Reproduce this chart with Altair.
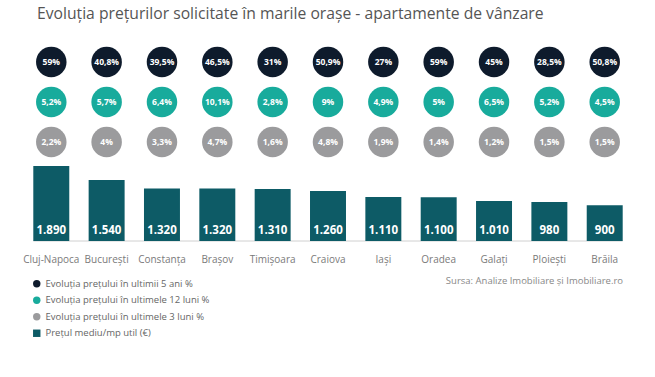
import altair as alt
import pandas as pd

cities = ["Cluj-Napoca", "București", "Constanța", "Brașov", "Timișoara", "Craiova",
          "Iași", "Oradea", "Galați", "Ploiești", "Brăila"]
evol_5ani = [59, 40.8, 39.5, 46.5, 31, 50.9, 27, 59, 45, 28.5, 50.8]
evol_12luni = [5.2, 5.7, 6.4, 10.1, 2.8, 9, 4.9, 5, 6.5, 5.2, 4.5]
evol_3luni = [2.2, 4, 3.3, 4.7, 1.6, 4.8, 1.9, 1.4, 1.2, 1.5, 1.5]
pret_mediu = [1890, 1540, 1320, 1320, 1310, 1260, 1110, 1100, 1010, 980, 900]

s5 = "Evoluția prețului în ultimii 5 ani %"
s12 = "Evoluția prețului în ultimele 12 luni %"
s3 = "Evoluția prețului în ultimele 3 luni %"
sp = "Prețul mediu/mp util (€)"
series = [s5, s12, s3, sp]
colors = ["#0e1b2c", "#18ab9c", "#9b9b9d", "#0d5b66"]
FONT = "Open Sans"


def pct(v):
    return f"{v:g}".replace(".", ",") + "%"


rows = []
for name, vals in [(s5, evol_5ani), (s12, evol_12luni), (s3, evol_3luni)]:
    for c, v in zip(cities, vals):
        rows.append({"city": c, "series": name, "label": pct(v)})
circ_df = pd.DataFrame(rows)
bar_df = pd.DataFrame({
    "city": cities,
    "price": pret_mediu,
    "series": sp,
    "label": [f"{v:,}".replace(",", ".") for v in pret_mediu],
})
src_df = pd.DataFrame({"t": ["Sursa: Analize Imobiliare și Imobiliare.ro"]})

xscale = alt.Scale(domain=cities, range=[33.3, 622.7], paddingInner=0.35, paddingOuter=0)
x_plain = alt.X("city:N", scale=xscale, sort=cities, axis=None)

leg = alt.Legend(title=None, orient="none", legendX=32, legendY=249,
                 symbolSize=55, labelFontSize=9.5, labelColor="#666666", labelLimit=400,
                 labelFont=FONT, rowPadding=5.5, symbolStrokeWidth=0)
color = alt.Color("series:N", scale=alt.Scale(domain=series, range=colors), legend=leg)
shape = alt.Shape("series:N", scale=alt.Scale(domain=series,
                                               range=["circle", "circle", "circle", "square"]),
                  legend=leg)

yrow = alt.Y("series:N", scale=alt.Scale(type="point", domain=[s5, s12, s3],
                                         range=[32, 112], padding=0), axis=None)
ybar = alt.Scale(domain=[0, 1890], range=[211, 136], nice=False, zero=True)
y_zero = alt.YDatum(0, scale=ybar, axis=None)

bars = alt.Chart(bar_df).mark_bar().encode(
    x=x_plain,
    y=alt.Y("price:Q", scale=ybar, axis=None),
    color=color,
)
baseline = alt.Chart(src_df).mark_rule(color="#d0d0d0", strokeWidth=1).encode(
    x=alt.value(33.3), x2=alt.value(622.7), y=y_zero,
)
bar_txt = alt.Chart(bar_df).mark_text(color="white", fontWeight="bold", fontSize=11.5,
                                      font=FONT, baseline="middle", dy=-10).encode(
    x=x_plain, y=y_zero, text="label:N",
)
city_txt = alt.Chart(bar_df).mark_text(color="#7a7a7a", fontSize=10, font=FONT,
                                       baseline="middle", dy=19).encode(
    x=x_plain, y=y_zero, text="city:N",
)
circles = alt.Chart(circ_df).mark_point(filled=True, size=930, opacity=1).encode(
    x=x_plain, y=yrow, color=color, shape=shape,
)
circ_txt = alt.Chart(circ_df).mark_text(color="white", fontWeight="bold", fontSize=8.5,
                                       font=FONT, baseline="middle").encode(
    x=x_plain, y=yrow, text="label:N",
)
src = alt.Chart(src_df).mark_text(align="right", baseline="middle", fontSize=9.5,
                                  color="#888888", font=FONT).encode(
    x=alt.value(623), y=alt.value(251), text="t:N",
)

chart = alt.layer(baseline, bars, bar_txt, city_txt, circles, circ_txt, src).resolve_scale(
    y="independent"
).properties(
    width=655, height=347,
    padding={"left": 0, "top": 30, "right": 0, "bottom": 0},
    autosize=alt.AutoSizeParams(type="none"),
    title=alt.TitleParams("Evoluția prețurilor solicitate în marile orașe - apartamente de vânzare",
                          anchor="start", frame="group", dx=37, fontSize=15.7,
                          fontWeight="normal", color="#555555", font=FONT, offset=7),
).configure_view(stroke=None)

chart.save("out.html", embed_options={"renderer": "svg", "actions": False})
